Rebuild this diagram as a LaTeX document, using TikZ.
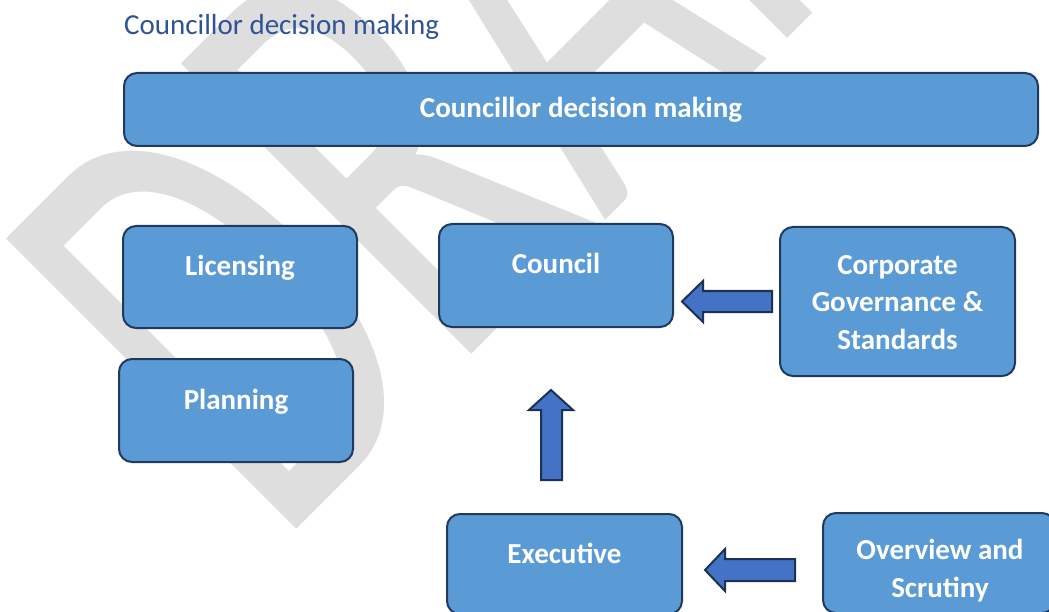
\documentclass[tikz,border=0pt]{standalone}
\usepackage{fontspec}
\setmainfont{Carlito}
\usetikzlibrary{calc}
\definecolor{boxfill}{HTML}{5B9BD5}
\definecolor{boxline}{HTML}{203A5E}
\definecolor{arrowfill}{HTML}{4472C4}
\definecolor{arrowline}{HTML}{1B3256}
\definecolor{titleblue}{HTML}{2F5496}
\definecolor{wmgray}{HTML}{DEDEDE}
\begin{document}
\begin{tikzpicture}[x=1pt,y=-1pt,
  box/.style={draw=boxline, line width=2pt, fill=boxfill, rounded corners=13pt, inner sep=0pt},
  boxtext/.style={text=white, font=\fontsize{29}{37.5}\selectfont\bfseries, align=center, inner sep=0pt},
  blockarrow/.style={draw=arrowline, line width=2pt, fill=arrowfill, line join=miter},
]
\clip (0,0) rectangle (1049,612);
\fill[white] (0,0) rectangle (1049,612);

% watermark
\node[text=wmgray, anchor=base west, rotate=45, yscale=1.6, inner sep=0pt,
      font=\fontsize{400}{400}\selectfont] (wm) at (277,549) {DRAFT};

% title
\node[text=titleblue, anchor=base west, inner sep=0pt,
      font=\fontsize{29}{35}\selectfont] (title) at (124,35) {Councillor decision making};

% boxes
\node[box, minimum width=914pt, minimum height=73pt] (top) at (581,109.5) {};
\node[box, minimum width=234pt, minimum height=102pt] (lic) at (240,277) {};
\node[box, minimum width=234pt, minimum height=103pt] (council) at (556,275.5) {};
\node[box, minimum width=235pt, minimum height=149pt] (corp) at (897.5,301.5) {};
\node[box, minimum width=234pt, minimum height=103pt] (plan) at (236,410.5) {};
\node[box, minimum width=235pt, minimum height=100pt] (exec) at (564.5,564) {};
\node[box, minimum width=232pt, minimum height=100pt] (over) at (939,563) {};

% texts
\node[boxtext, anchor=base] (topT) at ($(top.center)+(0,8)$) {Councillor decision making};
\node[boxtext, anchor=base] (licT) at ($(lic.north)+(0,51)$) {Licensing};
\node[boxtext, anchor=base] (councilT) at ($(council.north)+(0,50)$) {Council};
\node[boxtext, anchor=north] (corpT) at ($(corp.north)+(0,29)$) {Corporate\\Governance \&\\Standards};
\node[boxtext, anchor=base] (planT) at ($(plan.north)+(0,51)$) {Planning};
\node[boxtext, anchor=base] (execT) at ($(exec.north)+(0,50)$) {Executive};
\node[boxtext, anchor=north] (overT) at ($(over.north)+(1,27)$) {Overview and\\Scrutiny};

% block arrows
% corp -> council
\draw[blockarrow] ($(corp.west)+(-7,-10.5)$) -- ++(-69,0) -- ++(0,-10)
   -- ++(-21,20.5) -- ++(21,20.5) -- ++(0,-10) -- ++(69,0) -- cycle;
% exec -> council
\draw[blockarrow] ($(council.south)+(-15,152)$) -- ++(0,-70) -- ++(-12,0)
   -- ++(22,-20) -- ++(22,20) -- ++(-11,0) -- ++(0,70) -- cycle;
% over -> exec
\draw[blockarrow] ($(over.west)+(-27,-4)$) -- ++(-70,0) -- ++(0,-10)
   -- ++(-20,21) -- ++(20,21) -- ++(0,-10) -- ++(70,0) -- cycle;
\end{tikzpicture}
\end{document}
